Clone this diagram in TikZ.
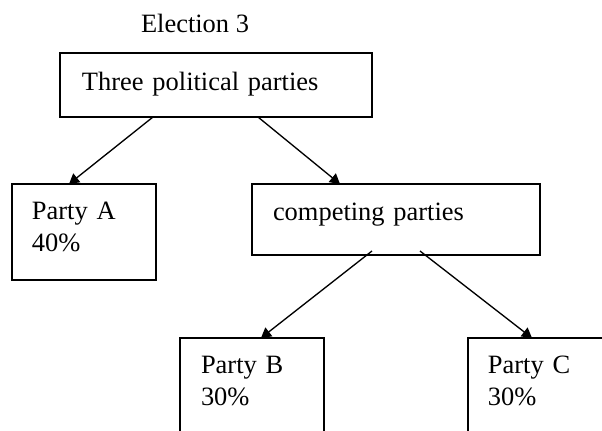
\documentclass[tikz,border=0pt]{standalone}
\usepackage{fontspec}
\setmainfont{Liberation Serif}
\usetikzlibrary{arrows.meta}

\begin{document}
\begin{tikzpicture}[x=0.45pt, y=-0.45pt,
  txt/.style={font=\fontsize{11.9}{14.4}\selectfont},
  box/.style={txt, draw, line width=0.75pt, anchor=north west, outer sep=0pt,
    inner ysep=0pt, align=left},
  link/.style={line width=0.6pt, -{Triangle[length=4.5pt, width=5pt]}}]

  \useasboundingbox (0,0) rectangle (602,430);

  \node[txt, anchor=base] (title) at (195,32) {Election 3};

  \node[box, inner xsep=9.9pt, text width=120.6pt, text height=16.65pt, text depth=12.15pt]
    (parties) at (60,53) {Three political parties};
  \node[box, inner xsep=9pt, text width=46.8pt, text height=15.75pt, text depth=27.45pt]
    (partyA) at (12,184) {Party A\\40\%};
  \node[box, inner xsep=9.45pt, text width=110.7pt, text height=16.2pt, text depth=15.75pt]
    (competing) at (252,184) {competing parties};
  \node[box, inner xsep=9.45pt, text width=45.9pt, text height=15.75pt, text depth=27.45pt]
    (partyB) at (180,338) {Party B\\30\%};
  \node[box, inner xsep=9pt, text width=46.8pt, text height=15.75pt, text depth=27.45pt]
    (partyC) at (468,338) {Party C\\30\%};

  \draw[link] ([xshift=41.85pt]parties.south west) -- ([xshift=25.65pt]partyA.north west); %% -> A
  \draw[link] ([xshift=89.1pt]parties.south west) -- ([xshift=39.6pt]competing.north west);
  \draw[link] ([xshift=54pt, yshift=1.8pt]competing.south west) -- ([xshift=36.45pt]partyB.north west); %% -> B
  \draw[link] ([xshift=75.6pt, yshift=1.8pt]competing.south west) -- ([xshift=28.8pt]partyC.north west); %% -> C
\end{tikzpicture}
\end{document}
